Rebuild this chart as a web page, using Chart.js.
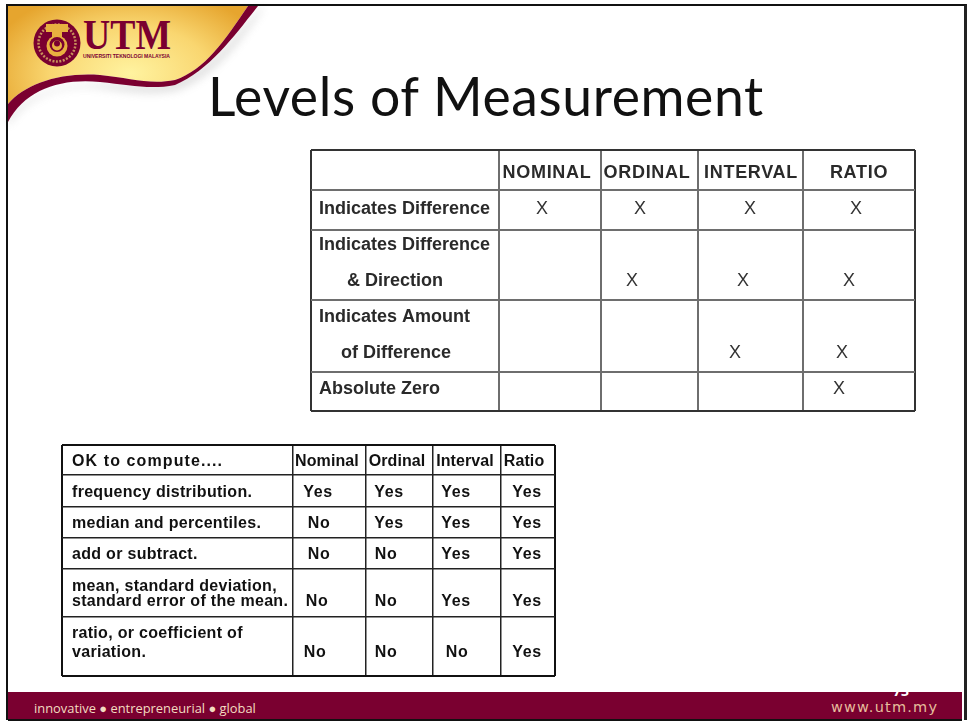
<!DOCTYPE html>
<html><head><meta charset="utf-8">
<script src="https://cdn.jsdelivr.net/npm/chart.js@4"></script>
<style>
html,body{margin:0;padding:0;background:#fff;width:968px;height:723px;overflow:hidden}
#frame{position:absolute;left:6px;top:4px;width:956px;height:714px;border:2px solid #111;border-right:3px solid #222;box-sizing:content-box;border-bottom:none}
#title{position:absolute;left:208px;top:58px;font:53.5px Lato,"Open Sans",sans-serif;letter-spacing:.6px;color:#111;white-space:nowrap;line-height:74px}
#foot{position:absolute;left:8px;top:692px;width:954px;height:27px;background:#7a0030;border-bottom:2px solid #111;overflow:hidden}
#foot .a{position:absolute;left:26px;top:7px;font:12.9px "Open Sans",sans-serif;color:#f3dcc0;white-space:nowrap}
#foot .b{position:absolute;left:823px;top:7px;font:14.5px "DejaVu Sans",sans-serif;letter-spacing:1.2px;color:#e6bd9c;white-space:nowrap}
#foot .n{position:absolute;left:885px;top:-11px;font:bold 14px "Open Sans",sans-serif;color:#fff}
canvas{position:absolute}
#logo{position:absolute;left:0;top:0}
</style></head><body>
<svg id="logo" width="300" height="150" viewBox="0 0 300 150">
<defs>
<radialGradient id="g" gradientUnits="userSpaceOnUse" cx="130" cy="72" r="145" gradientTransform="translate(0 30) scale(1 .6)">
<stop offset="0" stop-color="#fff3a0"/><stop offset=".55" stop-color="#f9d670"/><stop offset="1" stop-color="#e6a52e"/></radialGradient>
<filter id="s" x="-20%" y="-20%" width="140%" height="140%"><feGaussianBlur stdDeviation="4"/></filter>
</defs>
<path d="M8 126C25 98 60 84 100 88C130 92 150 96 178 90C215 76 240 42 262 10L262 6L240 30C215 60 190 82 150 85C110 84 40 76 8 118Z" fill="#999" opacity=".3" filter="url(#s)"/>
<path d="M8 6H248C225 40 205 70 175 80C150 85 130 78 100 75C60 72 25 84 8 104Z" fill="url(#g)"/>
<path d="M8 122C25 90 60 78 100 82C130 85 150 90 175 85C210 70 235 35 258 6H248C225 40 205 70 175 80C150 85 130 78 100 75C60 72 25 84 8 104Z" fill="#7a0030"/>
<circle cx="57" cy="43" r="23.5" fill="#7a0030"/><circle cx="57" cy="43" r="18.5" fill="none" stroke="#c8905a" stroke-width="2.5" stroke-dasharray="2 1.5"/>
<path d="M46 24H68V32H62V37H52V32H46Z" fill="#e8b040"/>
<circle cx="57" cy="46" r="10.5" fill="#e8b040"/><circle cx="57" cy="44.5" r="7.5" fill="#7a0030"/><circle cx="57" cy="45.5" r="5" fill="#e8b040"/><circle cx="57" cy="43.5" r="3" fill="#7a0030"/>
<text x="83" y="49" font-family="Liberation Serif" font-weight="bold" font-size="42" fill="#7a0030" textLength="88" lengthAdjust="spacingAndGlyphs">UTM</text>
<text x="83" y="58" font-family="Liberation Sans" font-weight="bold" font-size="5.6" fill="#7a0030" textLength="87" lengthAdjust="spacingAndGlyphs">UNIVERSITI TEKNOLOGI MALAYSIA</text>
</svg>
<div id="frame"></div>
<div id="title">Levels of Measurement</div>
<canvas id="tableA" style="filter:blur(.6px)"></canvas>
<canvas id="tableB" style="filter:blur(.4px)"></canvas>
<div id="foot"><span class="n">73</span><span class="a">innovative ● entrepreneurial ● global</span><span class="b">www.utm.my</span></div>
<script>
// ----- table 1 content
const levels = ["NOMINAL","ORDINAL","INTERVAL","RATIO"];
const propertyLines = ["Indicates Difference","Indicates Difference","& Direction","Indicates Amount","of Difference","Absolute Zero"];
const nominalMarks  = ["X","","","","",""];
const ordinalMarks  = ["X","","X","","",""];
const intervalMarks = ["X","","X","","X",""];
const ratioMarks    = ["X","","X","","X","X"];
// ----- table 2 content
const okLevels = ["Nominal","Ordinal","Interval","Ratio"];
const okHeader = "OK to compute....";
const okLines = ["frequency distribution.","median and percentiles.","add or subtract.","mean, standard deviation,","standard error of the mean.","ratio, or coefficient of","variation."];
const okNominal  = ["Yes","No","No","","No","","No"];
const okOrdinal  = ["Yes","Yes","No","","No","","No"];
const okInterval = ["Yes","Yes","Yes","","Yes","","No"];
const okRatio    = ["Yes","Yes","Yes","","Yes","","Yes"];

// ----- layout (table units), separate from the content above
const PAD = 3;
const layoutA = {left:311, top:150, w:604, h:261,
  xEdges:[0,188,290,387,492,604], yEdges:[0,40,80,150,222,261],
  headerY:23, lineY:[59,95,131,167,203,239],
  headerX:[236,336,440,548],
  labelX:[8,8,36,8,30,8],
  markX:[[231],[329,321],[439,432,424],[545,538,531,528]]};
const layoutB = {left:62, top:445, w:493, h:231,
  xEdges:[0,231,304,371,439,493], yEdges:[0,30,62,93,124,172,231],
  headerY:17, lineY:[48,79,110,142,157,189,208],
  headerX:[265,335,403,462],
  labelX:10,
  markX:[[256,257,257,255,253],[327,327,324,324,324],[394,394,394,394,395],[465,465,465,465,465]]};

const textPlugin = {id:'cellText', afterDatasetsDraw(chart){
  const c = chart.ctx;
  chart.data.datasets.forEach((ds,i)=>{
    const meta = chart.getDatasetMeta(i);
    c.save();
    c.font = ds.textFont; c.fillStyle = ds.textColor; c.textBaseline='middle';
    c.textAlign = ds.textAlign; c.letterSpacing = ds.textSpacing;
    meta.data.forEach((el,j)=>{ const t = ds.data[j].text; if(t) c.fillText(t, el.x, el.y); });
    c.restore();
  });
}};

function makeTable(id, L, datasets, gridColor, edgeColor, gridW, edgeW){
  const cv = document.getElementById(id);
  cv.width = L.w + 2*PAD; cv.height = L.h + 2*PAD;
  cv.style.left = (L.left-PAD)+'px'; cv.style.top = (L.top-PAD)+'px';
  const axis = (edges,max,reverse)=>({type:'linear',min:0,max,reverse,
    afterBuildTicks(s){ s.ticks = edges.map(value=>({value})); },
    ticks:{display:false}, border:{display:false},
    grid:{drawTicks:false, color:c=>(c.tick.value===0||c.tick.value===max)?edgeColor:gridColor,
      lineWidth:c=>(c.tick.value===0||c.tick.value===max)?edgeW:gridW}});
  return new Chart(cv,{type:'scatter',data:{datasets},plugins:[textPlugin],options:{
    responsive:false,animation:false,layout:{padding:PAD},
    plugins:{legend:{display:false},tooltip:{enabled:false},title:{display:false}},
    elements:{point:{radius:0}},
    scales:{x:axis(L.xEdges,L.w,false),y:axis(L.yEdges,L.h,true)}}});
}
const style = (font,color,align,sp)=>({textFont:font,textColor:color,textAlign:align,textSpacing:sp,showLine:false,pointRadius:0});

// Table 1
const A = layoutA;
const aColumns = [nominalMarks,ordinalMarks,intervalMarks,ratioMarks];
makeTable('tableA',A,[
  {label:'levels',data:levels.map((t,i)=>({x:A.headerX[i],y:A.headerY,text:t})),...style('bold 18px "Liberation Sans"','#2a2a2a','center','0.7px')},
  {label:'properties',data:propertyLines.map((t,i)=>({x:A.labelX[i],y:A.lineY[i],text:t})),...style('bold 18px "Liberation Sans"','#2a2a2a','left','0px')},
  ...aColumns.map((col,k)=>{
    let n=0; const pts=[];
    col.forEach((t,i)=>{ if(t) pts.push({x:A.markX[k][n++],y:A.lineY[i],text:t}); });
    return {label:levels[k],data:pts,...style('18px "Liberation Sans"','#333','center','0px')};
  })
],'#6e6e6e','#333',2,2);

// Table 2
const B = layoutB;
const bColumns = [okNominal,okOrdinal,okInterval,okRatio];
makeTable('tableB',B,[
  {label:'levels',data:okLevels.map((t,i)=>({x:B.headerX[i],y:B.headerY,text:t})),...style('bold 16px "Liberation Sans"','#111','center','0.1px')},
  {label:'header',data:[{x:B.labelX,y:B.headerY,text:okHeader}],...style('bold 16px "Liberation Sans"','#111','left','1.1px')},
  {label:'lines',data:okLines.map((t,i)=>({x:B.labelX,y:B.lineY[i],text:t})),...style('bold 16px "Liberation Sans"','#111','left','0.3px')},
  ...bColumns.map((col,k)=>{
    let n=0; const pts=[];
    col.forEach((t,i)=>{ if(t) pts.push({x:B.markX[k][n++],y:B.lineY[i],text:t}); });
    return {label:okLevels[k],data:pts,...style('bold 16px "Liberation Sans"','#111','center','0.6px')};
  })
],'#222','#111',1.5,2);
</script>
</body></html>
